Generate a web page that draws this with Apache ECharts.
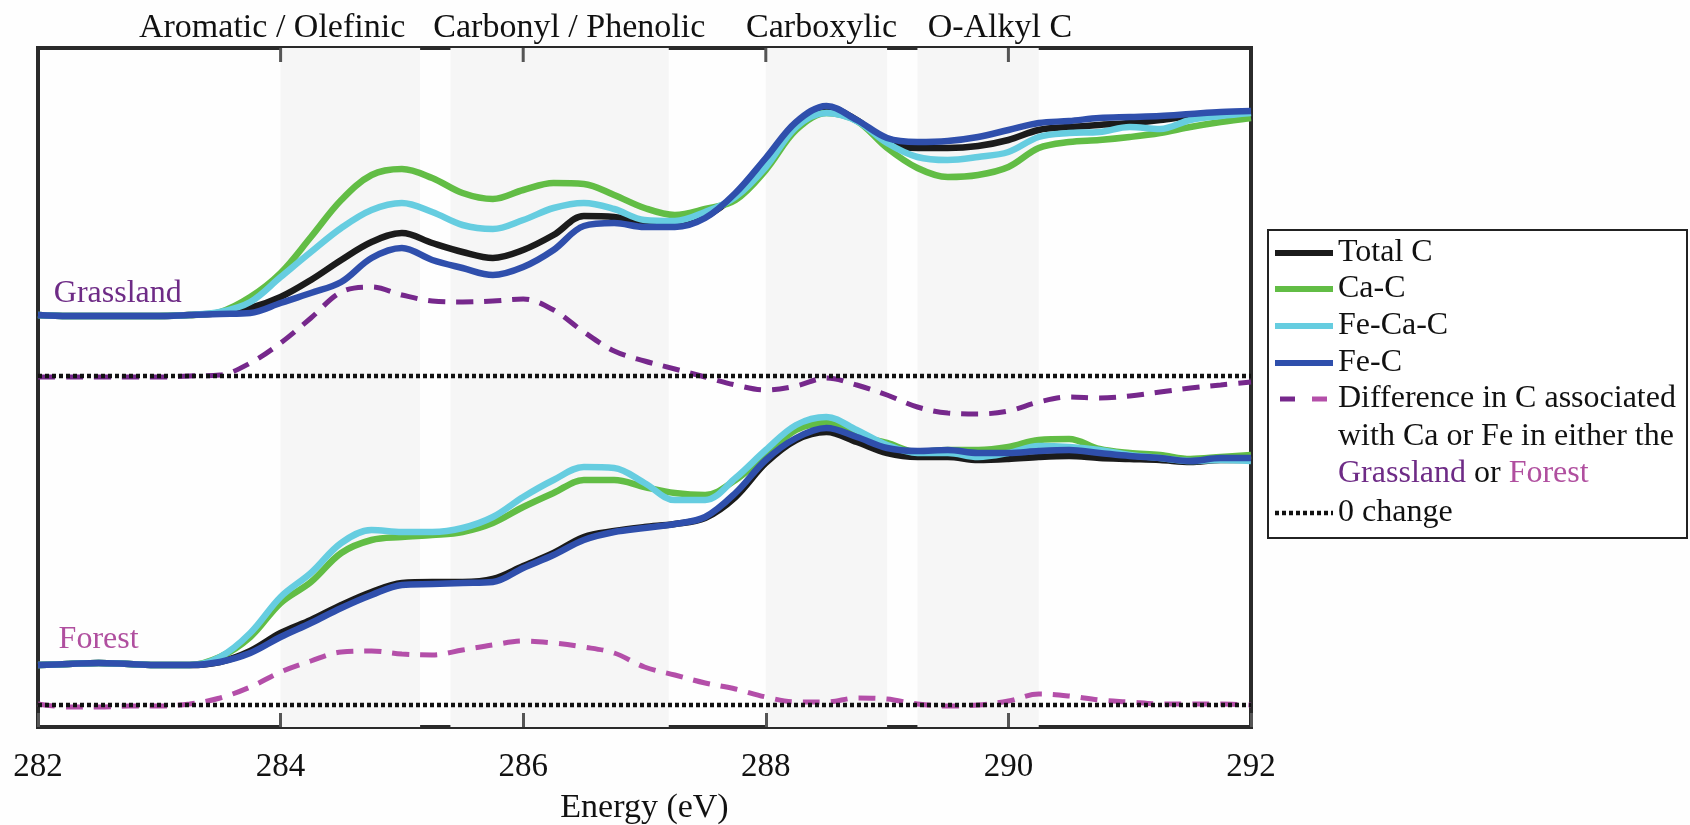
<!DOCTYPE html>
<html>
<head>
<meta charset="utf-8">
<script src="https://cdn.jsdelivr.net/npm/echarts@6.0.0/dist/echarts.min.js"></script>
<style>
  html, body { margin: 0; padding: 0; background: #fefefe; }
  #chart { width: 1690px; height: 825px; }
</style>
</head>
<body>
<div id="chart"></div>
<script>
// energy grid (eV)
const energy = [282, 282.25, 282.5, 282.75, 283, 283.25, 283.5, 283.75, 284, 284.25,
  284.5, 284.75, 285, 285.25, 285.5, 285.75, 286, 286.25, 286.5, 286.75,
  287, 287.25, 287.5, 287.75, 288, 288.25, 288.5, 288.75, 289, 289.25,
  289.5, 289.75, 290, 290.25, 290.5, 290.75, 291, 291.25, 291.5, 291.75, 292];

// Grassland spectra (relative to the grassland zero line)
const grassTotal = [0.61, 0.60, 0.60, 0.60, 0.60, 0.61, 0.63, 0.68, 0.79, 0.96,
  1.16, 1.34, 1.43, 1.33, 1.24, 1.18, 1.26, 1.41, 1.60, 1.59,
  1.53, 1.50, 1.59, 1.81, 2.16, 2.53, 2.69, 2.56, 2.34, 2.28,
  2.28, 2.30, 2.36, 2.46, 2.49, 2.51, 2.53, 2.56, 2.60, 2.63, 2.64];
const grassCa = [0.61, 0.60, 0.60, 0.60, 0.60, 0.61, 0.64, 0.79, 1.03, 1.39,
  1.76, 2.01, 2.07, 1.98, 1.83, 1.77, 1.86, 1.93, 1.92, 1.81,
  1.68, 1.61, 1.67, 1.76, 2.06, 2.46, 2.63, 2.55, 2.28, 2.08,
  1.99, 2.01, 2.09, 2.28, 2.34, 2.36, 2.39, 2.43, 2.49, 2.54, 2.58];
const grassFeCa = [0.61, 0.60, 0.60, 0.60, 0.60, 0.61, 0.64, 0.74, 0.99, 1.24,
  1.48, 1.66, 1.73, 1.64, 1.51, 1.47, 1.56, 1.68, 1.73, 1.67,
  1.56, 1.55, 1.64, 1.79, 2.09, 2.49, 2.63, 2.55, 2.33, 2.19,
  2.16, 2.19, 2.24, 2.39, 2.43, 2.44, 2.49, 2.47, 2.56, 2.60, 2.63];
const grassFe = [0.61, 0.60, 0.60, 0.60, 0.60, 0.61, 0.62, 0.63, 0.73, 0.83,
  0.94, 1.18, 1.28, 1.16, 1.08, 1.01, 1.09, 1.26, 1.50, 1.53,
  1.49, 1.49, 1.58, 1.83, 2.18, 2.54, 2.70, 2.56, 2.38, 2.34,
  2.35, 2.39, 2.46, 2.53, 2.55, 2.58, 2.59, 2.60, 2.62, 2.64, 2.65];
const grassDiff = [-0.01, -0.01, -0.01, -0.01, -0.01, 0.00, 0.01, 0.13, 0.33, 0.58,
  0.84, 0.89, 0.81, 0.75, 0.74, 0.75, 0.77, 0.66, 0.44, 0.25,
  0.15, 0.07, -0.01, -0.09, -0.14, -0.10, -0.02, -0.09, -0.19, -0.31,
  -0.37, -0.38, -0.35, -0.26, -0.21, -0.22, -0.20, -0.16, -0.12, -0.09, -0.06];

// Forest spectra (relative to the forest zero line)
const forestTotal = [0.40, 0.41, 0.42, 0.41, 0.40, 0.40, 0.43, 0.54, 0.72, 0.85,
  1.00, 1.13, 1.22, 1.23, 1.23, 1.26, 1.39, 1.52, 1.68, 1.74,
  1.78, 1.81, 1.87, 2.08, 2.42, 2.65, 2.73, 2.63, 2.52, 2.48,
  2.48, 2.45, 2.46, 2.48, 2.49, 2.47, 2.46, 2.45, 2.43, 2.45, 2.45];
const forestCa = [0.40, 0.41, 0.42, 0.41, 0.40, 0.40, 0.48, 0.68, 1.02, 1.23,
  1.52, 1.65, 1.68, 1.70, 1.73, 1.82, 1.98, 2.12, 2.25, 2.25,
  2.18, 2.12, 2.10, 2.25, 2.50, 2.75, 2.82, 2.70, 2.62, 2.53,
  2.55, 2.55, 2.58, 2.65, 2.66, 2.56, 2.52, 2.50, 2.46, 2.48, 2.50];
const forestFeCa = [0.40, 0.41, 0.42, 0.41, 0.40, 0.40, 0.48, 0.72, 1.08, 1.32,
  1.62, 1.75, 1.73, 1.73, 1.77, 1.88, 2.08, 2.25, 2.38, 2.37,
  2.22, 2.05, 2.05, 2.27, 2.55, 2.80, 2.88, 2.75, 2.60, 2.52,
  2.52, 2.48, 2.52, 2.59, 2.58, 2.55, 2.50, 2.47, 2.44, 2.45, 2.44];
const forestFe = [0.40, 0.41, 0.42, 0.41, 0.40, 0.40, 0.43, 0.52, 0.68, 0.82,
  0.97, 1.10, 1.20, 1.21, 1.22, 1.23, 1.37, 1.50, 1.65, 1.73,
  1.77, 1.81, 1.88, 2.12, 2.45, 2.67, 2.77, 2.68, 2.57, 2.54,
  2.55, 2.52, 2.52, 2.54, 2.55, 2.52, 2.49, 2.47, 2.44, 2.47, 2.47];
const forestDiff = [0.01, -0.02, -0.02, -0.01, -0.01, 0.01, 0.07, 0.18, 0.33, 0.44,
  0.53, 0.54, 0.51, 0.50, 0.55, 0.60, 0.64, 0.62, 0.58, 0.52,
  0.38, 0.30, 0.22, 0.16, 0.08, 0.03, 0.03, 0.07, 0.06, 0.01,
  -0.01, 0.00, 0.04, 0.11, 0.09, 0.05, 0.03, 0.01, 0.01, 0.01, 0.00];

// shaded regions and their labels
const bands = [[284, 285.15], [285.4, 287.2], [288, 289], [289.25, 290.25]];
const regionNames = ['Aromatic / Olefinic', 'Carbonyl / Phenolic', 'Carboxylic', 'O-Alkyl C'];
const regionCenters = [283.93, 286.38, 288.46, 289.93];
const topTicks = [284, 286, 288, 290];

const grassOffset = 3.29;   // vertical stacking of the grassland panel
const forestOffset = 0;
const yMin = -0.22, yMax = 6.57;

const FONT = '"Liberation Serif", "Times New Roman", serif';
const colors = {
  total: '#1b1b1b',
  ca: '#62bd45',
  feca: '#66cde0',
  fe: '#2f4fac',
  grass: '#76288c',
  forest: '#b44fa9'
};

const chart = echarts.init(document.getElementById('chart'));

function pts(values, offset) {
  return energy.map((e, i) => [e, +(values[i] + offset).toFixed(3)]);
}

function spec(name, values, offset, color) {
  return {
    name: name,
    type: 'line',
    data: pts(values, offset),
    showSymbol: false,
    smooth: 0.35,
    z: 3,
    lineStyle: { color: color, width: 6.5 },
    itemStyle: { color: color }
  };
}

function diff(name, values, offset, color) {
  return {
    name: name,
    type: 'line',
    data: pts(values, offset),
    showSymbol: false,
    smooth: 0.35,
    z: 2,
    lineStyle: { color: color, width: 5, type: [17, 11] },
    itemStyle: { color: color }
  };
}

function zeroLine(offset) {
  return {
    name: '0 change',
    type: 'line',
    data: [[282, offset], [292, offset]],
    showSymbol: false,
    z: 4,
    lineStyle: { color: '#111', width: 4.5, type: [4, 3] }
  };
}

const series = [
  {
    name: 'bands',
    type: 'line',
    data: [],
    z: 1,
    markArea: {
      silent: true,
      itemStyle: { color: '#f6f6f6' },
      data: bands.map(b => [{ xAxis: b[0] }, { xAxis: b[1] }])
    }
  },
  // tick marks hanging from the top frame
  {
    name: 'top ticks',
    type: 'custom',
    silent: true,
    z: 10,
    data: topTicks.map(t => [t, yMax]),
    renderItem: function (params, api) {
      const p = api.coord([api.value(0), api.value(1)]);
      return {
        type: 'line',
        shape: { x1: p[0], y1: p[1], x2: p[0], y2: p[1] + 14 },
        style: { stroke: '#555', lineWidth: 3 }
      };
    }
  },
  diff('Grassland difference', grassDiff, grassOffset, colors.grass),
  diff('Forest difference', forestDiff, forestOffset, colors.forest),
  zeroLine(grassOffset),
  zeroLine(forestOffset),
  spec('Total C', grassTotal, grassOffset, colors.total),
  spec('Ca-C', grassCa, grassOffset, colors.ca),
  spec('Fe-Ca-C', grassFeCa, grassOffset, colors.feca),
  spec('Fe-C', grassFe, grassOffset, colors.fe),
  spec('Total C', forestTotal, forestOffset, colors.total),
  spec('Ca-C', forestCa, forestOffset, colors.ca),
  spec('Fe-Ca-C', forestFeCa, forestOffset, colors.feca),
  spec('Fe-C', forestFe, forestOffset, colors.fe)
];

chart.setOption({
  animation: false,
  backgroundColor: '#fefefe',
  grid: {
    left: 38, right: 439, top: 48, bottom: 98,
    outerBoundsMode: 'none',
    show: true, borderColor: '#2a2a2a', borderWidth: 4, backgroundColor: 'transparent'
  },
  xAxis: {
    type: 'value', min: 282, max: 292, interval: 2, position: 'bottom', z: 10,
    axisLine: { show: false, onZero: false },
    axisTick: { show: true, inside: true, length: 14, lineStyle: { color: '#555', width: 3 } },
    splitLine: { show: false },
    axisLabel: { fontSize: 33, fontFamily: FONT, color: '#111', margin: 24 },
    name: 'Energy (eV)', nameLocation: 'middle', nameGap: 64,
    nameTextStyle: { fontSize: 34, fontFamily: FONT, color: '#111' }
  },
  yAxis: { type: 'value', min: yMin, max: yMax, show: false },
  series: series
});

// annotations: region titles, panel names, legend box
const graphics = [];
regionNames.forEach((t, i) => {
  const x = chart.convertToPixel({ xAxisIndex: 0 }, regionCenters[i]);
  graphics.push({
    type: 'text', x: x, y: 28,
    style: { text: t, fontSize: 34, fontFamily: FONT, fill: '#111', align: 'center', verticalAlign: 'middle' }
  });
});

const gPos = chart.convertToPixel({ gridIndex: 0 }, [282.13, grassOffset + 0.82]);
const fPos = chart.convertToPixel({ gridIndex: 0 }, [282.17, forestOffset + 0.65]);
graphics.push({
  type: 'text', x: gPos[0], y: gPos[1],
  style: { text: 'Grassland', fontSize: 32, fontFamily: FONT, fill: '#6e2b86', verticalAlign: 'middle' }
});
graphics.push({
  type: 'text', x: fPos[0], y: fPos[1],
  style: { text: 'Forest', fontSize: 32, fontFamily: FONT, fill: '#b04f9f', verticalAlign: 'middle' }
});

// legend
const lx = 1268, ly = 230;
graphics.push({
  type: 'rect', shape: { x: lx, y: ly, width: 419, height: 308 },
  style: { fill: '#ffffff', stroke: '#222', lineWidth: 2 }, z: 10
});
const legendRows = [
  { name: 'Total C', color: colors.total, y: 253 },
  { name: 'Ca-C', color: colors.ca, y: 289 },
  { name: 'Fe-Ca-C', color: colors.feca, y: 326 },
  { name: 'Fe-C', color: colors.fe, y: 363 }
];
function legendText(text, y) {
  return {
    type: 'text', x: 1338, y: y, z: 11,
    style: { text: text, fontSize: 32, fontFamily: FONT, fill: '#111', verticalAlign: 'middle' }
  };
}
legendRows.forEach(r => {
  graphics.push({
    type: 'line', z: 11, shape: { x1: 1275, y1: r.y, x2: 1333, y2: r.y },
    style: { stroke: r.color, lineWidth: 6 }
  });
  graphics.push(legendText(r.name, r.y));
});
graphics.push({
  type: 'line', z: 11, shape: { x1: 1280, y1: 399, x2: 1295, y2: 399 },
  style: { stroke: colors.grass, lineWidth: 5 }
});
graphics.push({
  type: 'line', z: 11, shape: { x1: 1312, y1: 399, x2: 1327, y2: 399 },
  style: { stroke: colors.forest, lineWidth: 5 }
});
graphics.push(legendText('Difference in C associated', 399));
graphics.push(legendText('with Ca or Fe in either the', 437));
graphics.push({
  type: 'text', x: 1338, y: 474, z: 11,
  style: {
    text: '{g|Grassland}{n| or }{f|Forest}',
    verticalAlign: 'middle', fontSize: 32, fontFamily: FONT,
    rich: {
      g: { fill: '#6e2b86', fontSize: 32, fontFamily: FONT },
      n: { fill: '#111', fontSize: 32, fontFamily: FONT },
      f: { fill: '#b04f9f', fontSize: 32, fontFamily: FONT }
    }
  }
});
graphics.push({
  type: 'line', z: 11, shape: { x1: 1275, y1: 513, x2: 1333, y2: 513 },
  style: { stroke: '#111', lineWidth: 4.5, lineDash: [4, 3] }
});
graphics.push(legendText('0 change', 513));

chart.setOption({ graphic: graphics });
</script>
</body>
</html>
